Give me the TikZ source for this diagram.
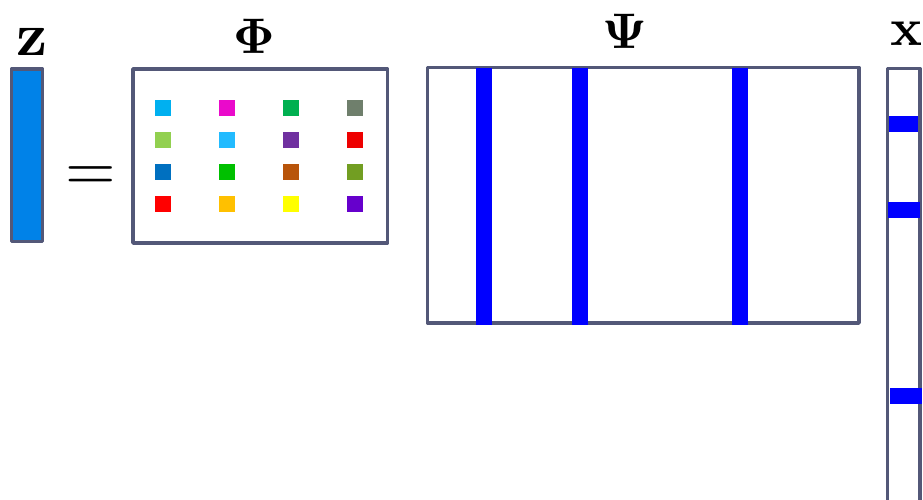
\documentclass[tikz,border=0pt]{standalone}
\usepackage{graphicx}
\usepackage{amsmath}
\definecolor{bordercol}{RGB}{83,88,120}
\definecolor{zfill}{RGB}{0,130,232}
\definecolor{barblue}{RGB}{0,0,255}
\definecolor{c11}{RGB}{0,176,240}
\definecolor{c12}{RGB}{234,10,203}
\definecolor{c13}{RGB}{0,176,80}
\definecolor{c14}{RGB}{111,127,108}
\definecolor{c21}{RGB}{146,208,80}
\definecolor{c22}{RGB}{34,187,255}
\definecolor{c23}{RGB}{112,48,160}
\definecolor{c24}{RGB}{238,0,0}
\definecolor{c31}{RGB}{0,112,192}
\definecolor{c32}{RGB}{0,192,0}
\definecolor{c33}{RGB}{184,84,10}
\definecolor{c34}{RGB}{114,158,34}
\definecolor{c41}{RGB}{255,0,0}
\definecolor{c42}{RGB}{255,192,0}
\definecolor{c43}{RGB}{255,255,0}
\definecolor{c44}{RGB}{102,0,204}
\tikzset{
  matbox/.style={draw=bordercol, line width=3.5pt, line join=round, rectangle, inner sep=0pt, outer sep=0pt},
  cell/.style={rectangle, inner sep=0pt, outer sep=0pt, minimum width=16pt, minimum height=16pt},
  bar/.style={fill=barblue, draw=none},
  biglabel/.style={inner sep=0pt, outer sep=0pt, anchor=base}
}
\begin{document}
\begin{tikzpicture}[x=1pt,y=-1pt]
\useasboundingbox (0,0) rectangle (923,499);
\clip (0,0) rectangle (923,499);
% z vector
\node[matbox, fill=zfill, minimum width=31pt, minimum height=172.5pt] (zbox) at (27,155.25) {};
\node[biglabel] (zlab) at (32.5,55) {\scalebox{6.1}{$\mathbf{z}$}};
% equals
\node[biglabel] (eq) at (91,190) {\scalebox{6.5}{$=$}};
% Phi matrix
\node[matbox, minimum width=254.5pt, minimum height=174pt] (phibox) at (260.25,156) {};
\node[biglabel] (philab) at (254,53) {\scalebox{5}{$\mathbf{\Phi}$}};
\foreach \r/\y in {1/108,2/140,3/172,4/204}{
  \foreach \c/\x in {1/163,2/227,3/291,4/355}{
    \node[cell, fill=c\r\c] (s\r\c) at (\x,\y) {};
  }
}
% Psi matrix
\node[matbox, minimum width=431.5pt, minimum height=255.5pt] (psibox) at (643.25,195.25) {};
\node[biglabel] (psilab) at (625,48) {\scalebox{5}{$\mathbf{\Psi}$}};
\fill[bar] (476,67.5) rectangle (492,324.5);
\fill[bar] (572,67.5) rectangle (588,324.5);
\fill[bar] (732,67.5) rectangle (748,324.5);
% x vector
\node[matbox, minimum width=32.5pt, minimum height=460pt] (xbox) at (903.75,298.5) {};
\node[biglabel] (xlab) at (907,45) {\scalebox{5.3}{$\mathbf{x}$}};
\fill[bar] (889,116) rectangle (918,132);
\fill[bar] (888,202) rectangle (920,218);
\fill[bar] (890,388) rectangle (922,404);
\end{tikzpicture}
\end{document}
